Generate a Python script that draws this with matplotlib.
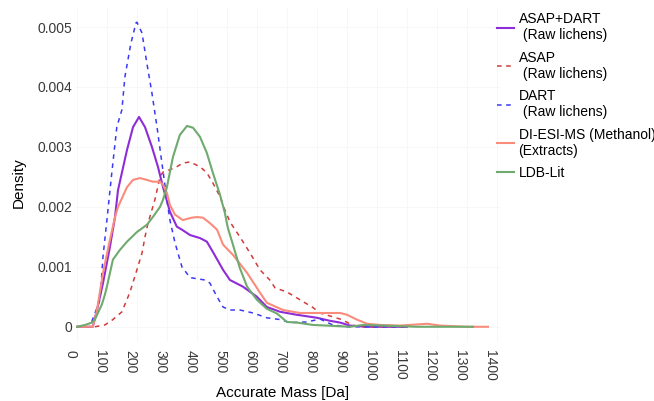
import matplotlib
matplotlib.use("Agg")
import matplotlib.pyplot as plt
from matplotlib.transforms import ScaledTranslation

plt.rcParams['font.family'] = ['Liberation Sans', 'DejaVu Sans']

# density curves (mass in Da, density)
asap_dart_mass = [0, 53, 67, 87, 110, 127, 137, 167, 187, 207, 227, 250, 270, 287, 310, 333, 350,
                  377, 410, 433, 453, 487, 510, 553, 600, 633, 677, 733, 800, 843, 877, 910, 967, 1100]
asap_dart_dens = [0, 0, 0.00028, 0.00073, 0.00133, 0.00183, 0.00228, 0.00295, 0.00333, 0.0035,
                  0.00333, 0.003, 0.00267, 0.00233, 0.00192, 0.00167, 0.00162, 0.00153, 0.00148,
                  0.00142, 0.00125, 0.00095, 0.00078, 0.00067, 0.0005, 0.00033, 0.00025, 0.0002,
                  0.00015, 0.0001, 0.00007, 0.00002, 0, 0]

asap_mass = [60, 93, 120, 150, 177, 200, 217, 227, 237, 260, 277, 287, 310, 333, 353, 377, 410,
             433, 453, 477, 493, 510, 543, 577, 610, 643, 660, 700, 727, 760, 787, 810, 850, 883,
             917, 943, 1100]
asap_dens = [0, 0.00003, 0.00012, 0.00025, 0.00058, 0.00095, 0.00123, 0.0015, 0.00173, 0.00212,
             0.0025, 0.00258, 0.00262, 0.00267, 0.00273, 0.00275, 0.00267, 0.00257, 0.0024,
             0.00217, 0.00195, 0.00175, 0.0015, 0.00123, 0.00095, 0.00078, 0.00065, 0.00058,
             0.0005, 0.0004, 0.00032, 0.00023, 0.00017, 0.00012, 0.00003, 0, 0]

dart_mass = [0, 43, 77, 87, 100, 117, 133, 150, 160, 180, 197, 200, 217, 233, 250, 267, 300, 310,
             327, 350, 377, 427, 443, 467, 487, 510, 543, 587, 633, 677, 710, 767, 810, 853, 900, 1100]
dart_dens = [0, 0, 0.00045, 0.00117, 0.00178, 0.0026, 0.00333, 0.00362, 0.00417, 0.00473, 0.00507,
             0.00508, 0.0049, 0.0044, 0.0039, 0.00333, 0.00212, 0.00178, 0.0014, 0.001, 0.00082,
             0.00078, 0.00073, 0.0005, 0.00033, 0.00028, 0.00028, 0.00023, 0.00015, 0.00012,
             0.00007, 0.00008, 0.00013, 0.00003, 0, 0]

esi_mass = [0, 53, 67, 87, 110, 127, 137, 167, 187, 210, 233, 253, 277, 287, 300, 310, 327, 353,
            383, 400, 420, 443, 467, 487, 520, 567, 610, 633, 687, 743, 853, 877, 900, 933, 967,
            1010, 1077, 1167, 1210, 1300, 1370]
esi_dens = [0, 0, 0.00028, 0.0009, 0.00145, 0.00183, 0.002, 0.00233, 0.00245, 0.00248, 0.00245,
            0.00242, 0.00242, 0.00237, 0.00223, 0.00203, 0.00187, 0.00178, 0.00182, 0.00183,
            0.00182, 0.00173, 0.00162, 0.00137, 0.0012, 0.0009, 0.00057, 0.0004, 0.00028,
            0.00023, 0.00023, 0.00023, 0.0002, 0.00012, 0.00005, 0.00003, 0.00002, 0.00005,
            0.00002, 0, 0]

ldb_mass = [0, 27, 50, 60, 70, 83, 93, 100, 120, 143, 167, 200, 233, 253, 277, 287, 300, 320, 343,
            367, 387, 410, 433, 453, 477, 493, 503, 520, 543, 567, 600, 633, 667, 700, 733, 787,
            833, 910, 953, 1020, 1133, 1320]
ldb_dens = [0, 0.00003, 0.00007, 0.00012, 0.00023, 0.00037, 0.00053, 0.00067, 0.00112, 0.00128,
            0.00142, 0.00158, 0.0017, 0.00183, 0.002, 0.00212, 0.00233, 0.00283, 0.0032, 0.00335,
            0.00332, 0.00317, 0.0029, 0.00257, 0.0022, 0.0019, 0.00165, 0.00137, 0.00098,
            0.00067, 0.00045, 0.0003, 0.00022, 0.00008, 0.00007, 0.00003, 0.00002, 0, 0.00003,
            0.00002, 0, 0]

labels = ["ASAP+DART\n (Raw lichens)", "ASAP\n (Raw lichens)", "DART\n (Raw lichens)",
          "DI-ESI-MS (Methanol)\n(Extracts)", "LDB-Lit"]
x_ticks = list(range(0, 1401, 100))
y_ticks = [0, 0.001, 0.002, 0.003, 0.004, 0.005]
y_tick_labels = ["0", "0.001", "0.002", "0.003", "0.004", "0.005"]

fig = plt.figure(figsize=(6.54, 4.01), dpi=100)
ax = fig.add_axes([76 / 654, 1 - 342 / 401, 424 / 654, 335 / 401])

ax.plot(asap_dart_mass, asap_dart_dens, color='#8E2DD8', lw=1.5, label=labels[0])
ax.plot(asap_mass, asap_dens, color='#D33A3A', lw=1.1, dashes=(3, 3), label=labels[1])
ax.plot(dart_mass, dart_dens, color='#3A3AF5', lw=1.1, dashes=(3, 3), label=labels[2])
ax.plot(esi_mass, esi_dens, color='#FA8C7C', lw=1.5, label=labels[3])
ax.plot(ldb_mass, ldb_dens, color='#6FAA6F', lw=1.5, label=labels[4])

ax.set_xlim(-3, 1410)
ax.set_ylim(-0.000254, 0.005334)
ax.set_xticks(x_ticks)
ax.set_xticklabels([str(t) for t in x_ticks], rotation=270)
ax.set_yticks(y_ticks)
ax.set_yticklabels(y_tick_labels)
ax.tick_params(axis='both', length=0, labelsize=10, labelcolor='#3a3a3a')
ax.tick_params(axis='x', pad=5.5)
ax.tick_params(axis='y', pad=2.5)
shift = ScaledTranslation(-6.5 / 100, 0, fig.dpi_scale_trans)
for lab in ax.get_xticklabels():
    lab.set_transform(lab.get_transform() + shift)

ax.grid(True, color='#F6F6F6', lw=0.6)
ax.set_axisbelow(True)
for s in ax.spines.values():
    s.set_visible(False)

ax.set_xlabel("Accurate Mass [Da]", fontsize=11)
ax.xaxis.set_label_coords(0.488, -0.131)
ax.set_ylabel("Density", fontsize=11)
ax.yaxis.set_label_coords(-0.118, 0.475)

fig.legend(loc='upper left', bbox_to_anchor=(497 / 654, 1 - 12 / 401), frameon=False,
           fontsize=10, borderpad=0, borderaxespad=0, handlelength=1.2,
           handletextpad=0.35, labelspacing=0.6)

fig.savefig("out.png", dpi=100)
